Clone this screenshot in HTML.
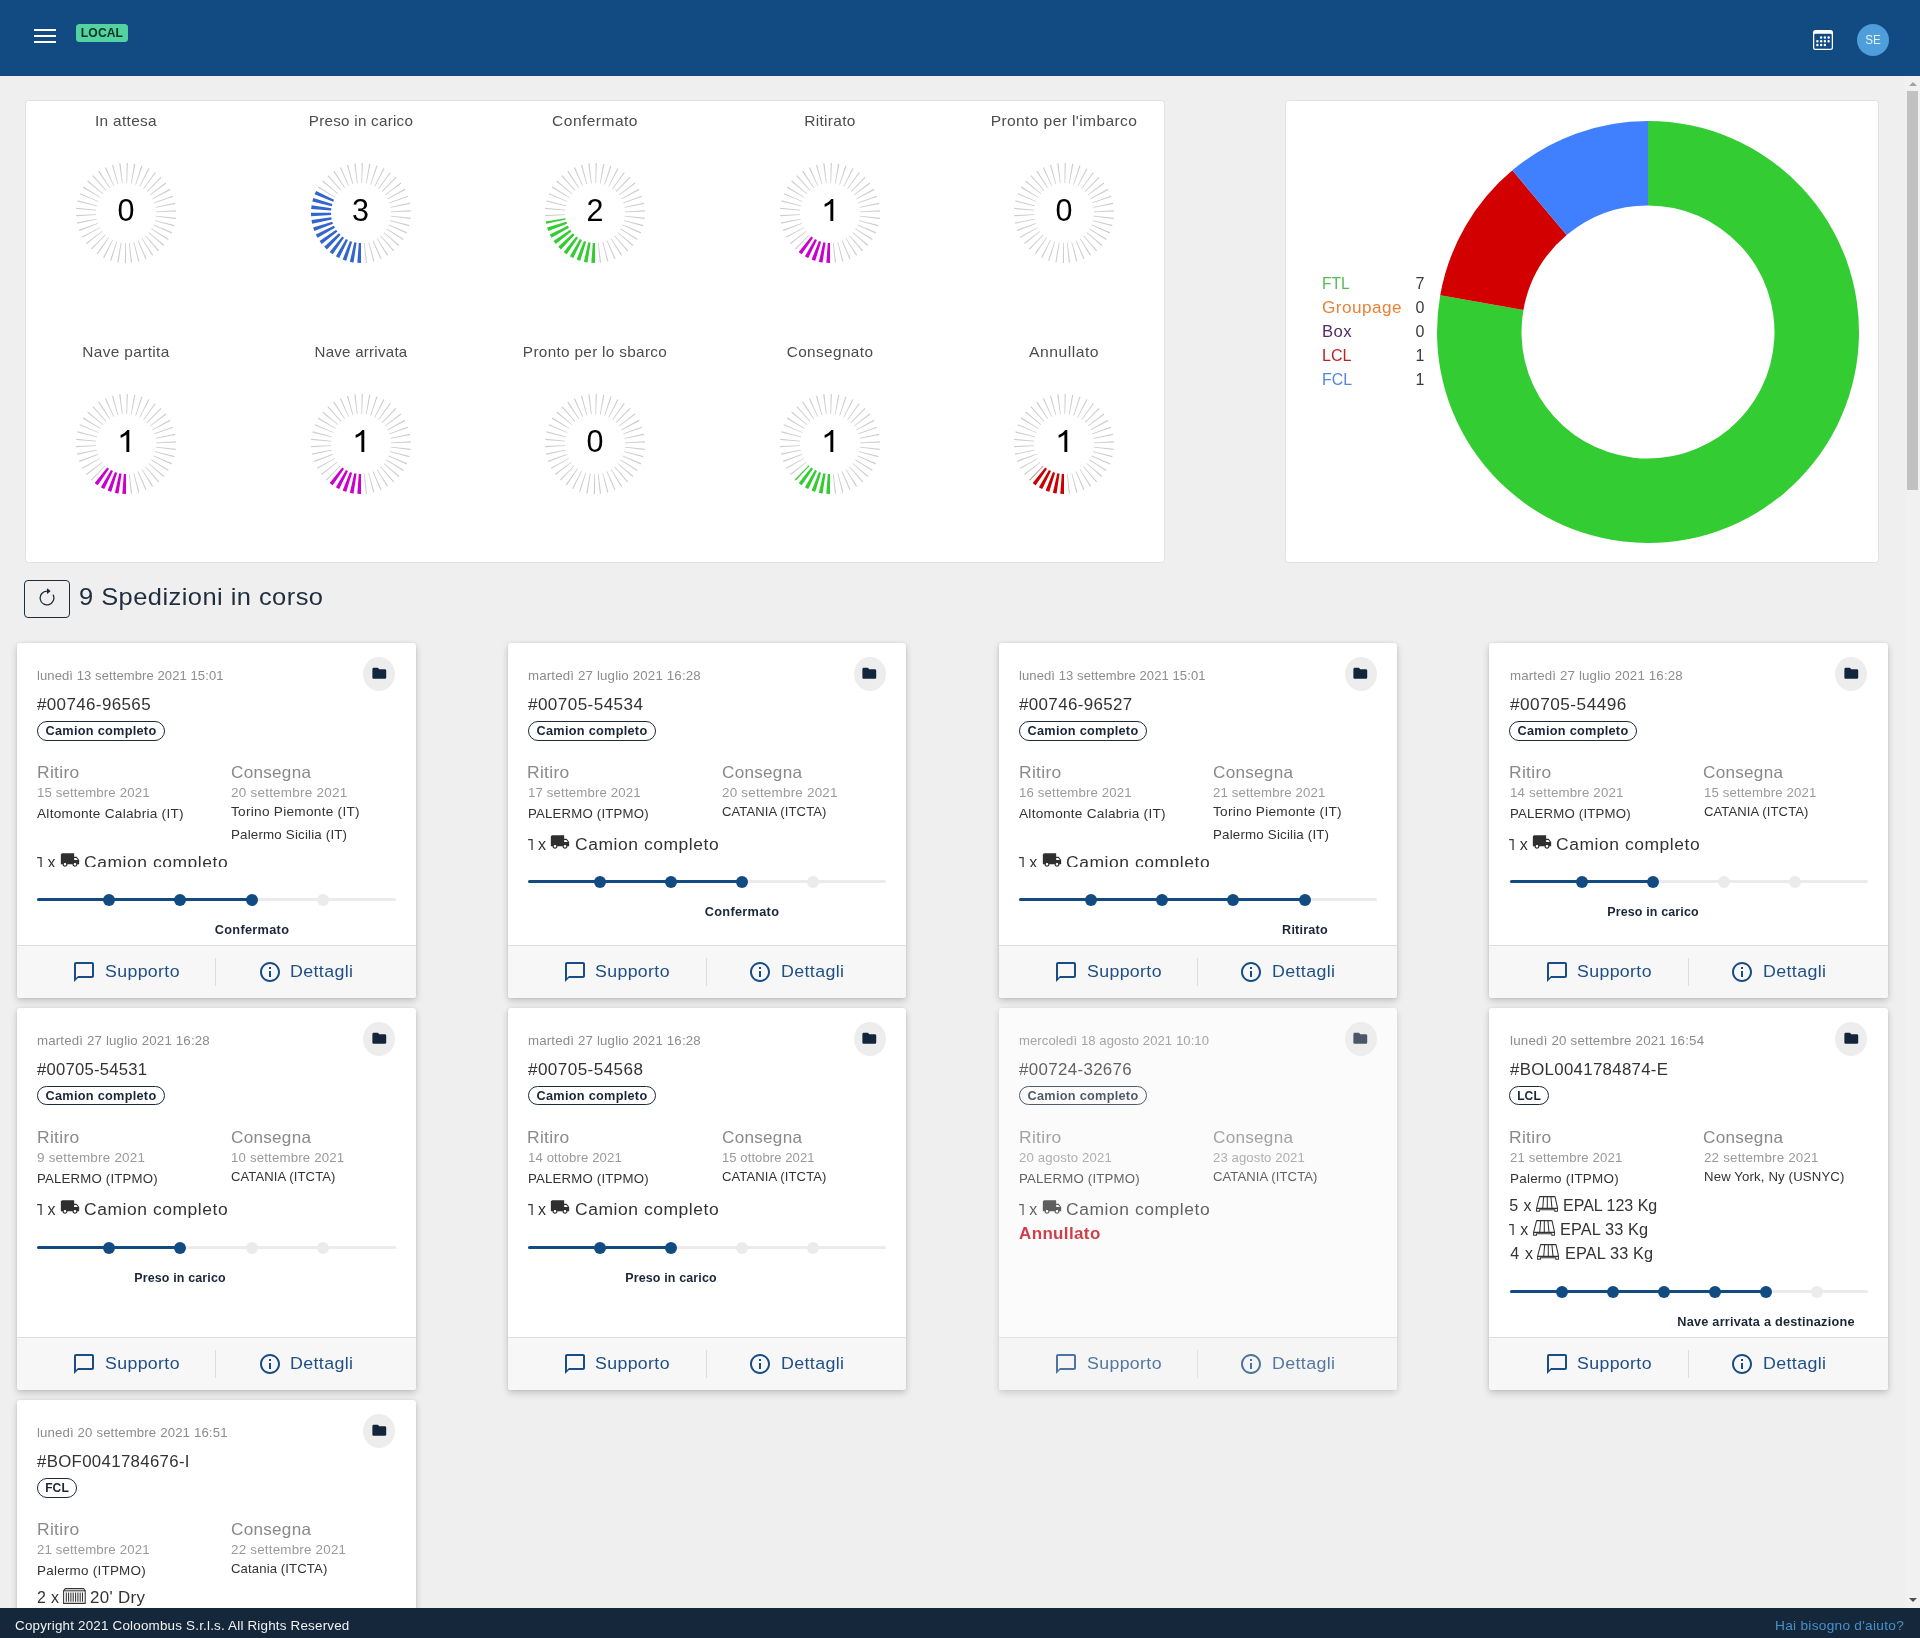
<!DOCTYPE html><html><head><meta charset="utf-8"><title>Dashboard</title><style>
*{box-sizing:border-box}
html,body{margin:0;padding:0}
body{width:1920px;height:1638px;overflow:hidden;background:#efefef}
#root{position:absolute;left:0;top:0;width:1920px;height:1638px;overflow:hidden;will-change:transform;background:#efefef;font-family:"Liberation Sans",sans-serif;color:#333}
.abs{position:absolute}
.t{position:absolute;white-space:nowrap;line-height:1}
#hdr{position:absolute;left:0;top:0;width:1920px;height:75.5px;background:#124b82}
.bar{position:absolute;left:34px;width:22px;height:2.4px;background:#fff}
#local{position:absolute;left:76px;top:24px;width:52px;height:18px;border-radius:3.5px;background:#52d3a1}
.loc{font-size:12px;font-weight:700;color:#0c3326}
#ava{position:absolute;left:1857px;top:24px;width:32px;height:32px;border-radius:50%;background:#4d9edb}
.av{font-size:12px;color:#e6f3ff}
.pan{position:absolute;background:#fff;border:1px solid #e1e1e1;border-radius:3.5px}
.gl{font-size:14.4px;color:#4c4c4c}
.gn{font-size:30.5px;color:#000}
.lg{font-size:16px}
.lgn{font-size:16px;color:#3a3a3a}
#rbtn{position:absolute;left:24px;top:580px;width:46px;height:38px;border:1px solid #222d3a;border-radius:4px}
.ttl{font-size:24px;color:#1f2d3d}
.card{position:absolute;width:398.6px;background:#fff;border-radius:3px;box-shadow:0 3px 7px rgba(0,0,0,.19),0 0 3px rgba(0,0,0,.08);overflow:hidden}
.card.off{opacity:.75}
.dt{font-size:12.8px;color:#8c8c8c}
.id{font-size:16px;color:#333}
.fbtn{position:absolute;left:346px;top:14.3px;width:32px;height:34px;border-radius:50%;background:#ededed}
.badge{position:absolute;height:19.5px;border:1px solid #1c2b3a;border-radius:10px}
.bt{font-size:12px;font-weight:700;color:#1a2636}
.lab{font-size:16.5px;color:#8a8a8a}
.d2{font-size:12.8px;color:#9a9a9a}
.pl{font-size:12.8px;color:#333}
.cg{font-size:16px;color:#333}
.pl0{position:absolute;left:20.3px;width:358.4px;height:3px;background:#ebebeb;border-radius:2px}
.pl1{position:absolute;left:20.3px;height:3.2px;background:#124b82;border-radius:2px}
.dot{position:absolute;width:12px;height:12px;border-radius:50%;background:#ebebeb}
.dot.on{background:#124b82}
.st{font-size:12px;font-weight:700;color:#1a2636}
.ann{font-size:16px;font-weight:700;color:#c40510}
.foot{position:absolute;left:0;width:100%;height:60px;background:#f7f7f7;border-top:1px solid #dedede}
.fl{font-size:16.8px;color:#1f4f86}
.vd{position:absolute;left:198.3px;width:1px;height:28.5px;background:#dcdcdc}
#ftr{position:absolute;left:0;top:1608px;width:1920px;height:30px;background:#15273a}
.ft{font-size:12.8px}
#sb{position:absolute;left:1905px;top:75.5px;width:15px;height:1532.5px;background:#f1f1f1}
#sbt{position:absolute;left:2px;top:15px;width:11px;height:399.5px;background:#c1c1c1}
</style></head><body><div id="root">
<div id="hdr"><div class="bar" style="top:28.8px"></div><div class="bar" style="top:34.8px"></div><div class="bar" style="top:40.8px"></div><div id="local"></div>
<div class="t loc" style="top:27.05px;left:-98.00px;width:400px;text-align:center;transform:scaleX(1.0127);transform-origin:center center;letter-spacing:0.086px;"><span id="t1">LOCAL</span></div>
<svg class="abs" style="left:1813px;top:30px" width="20" height="20" viewBox="0 0 16 16" fill="#fff"><path d="M14 0H2a2 2 0 0 0-2 2v12a2 2 0 0 0 2 2h12a2 2 0 0 0 2-2V2a2 2 0 0 0-2-2zM1 3.857C1 3.384 1.448 3 2 3h12c.552 0 1 .384 1 .857v10.286c0 .473-.448.857-1 .857H2c-.552 0-1-.384-1-.857V3.857z"/><path d="M6.500 7a1 1 0 1 0 0-2 1 1 0 0 0 0 2zm3 0a1 1 0 1 0 0-2 1 1 0 0 0 0 2zm3 0a1 1 0 1 0 0-2 1 1 0 0 0 0 2zm-9 3a1 1 0 1 0 0-2 1 1 0 0 0 0 2zm3 0a1 1 0 1 0 0-2 1 1 0 0 0 0 2zm3 0a1 1 0 1 0 0-2 1 1 0 0 0 0 2zm3 0a1 1 0 1 0 0-2 1 1 0 0 0 0 2zm-9 3a1 1 0 1 0 0-2 1 1 0 0 0 0 2zm3 0a1 1 0 1 0 0-2 1 1 0 0 0 0 2zm3 0a1 1 0 1 0 0-2 1 1 0 0 0 0 2z"/></svg>
<div id="ava"></div>
<div class="t av" style="top:34.05px;left:1672.90px;width:400px;text-align:center;transform:scaleX(0.9740);transform-origin:center center;"><span id="t2">SE</span></div>
</div>
<div id="sb"><div id="sbt"></div><svg class="abs" style="left:3.5px;top:6.5px" width="8" height="4" viewBox="0 0 8 4"><path d="M0 4L4 0L8 4Z" fill="#a3a3a3"/></svg><svg class="abs" style="left:3.5px;top:1522.5px" width="8" height="4" viewBox="0 0 8 4"><path d="M0 0L4 4L8 0Z" fill="#505050"/></svg></div>
<div class="pan" style="left:25px;top:100px;width:1139.500px;height:463px"></div>
<div class="t gl" style="top:114.05px;left:-74.00px;width:400px;text-align:center;transform:scaleX(1.0706);transform-origin:center center;letter-spacing:0.303px;"><span id="t3">In attesa</span></div>
<svg class="abs" style="left:71.00px;top:157.90px" width="110" height="110" viewBox="-55 -55 110 110"><g transform="rotate(90)" fill="none" stroke-width="20"><circle r="40" stroke="#cdcdcd" stroke-dasharray="1 5"/></g></svg>
<div class="t gn" style="top:195.05px;left:-74.00px;width:400px;text-align:center;"><span id="t4">0</span></div>
<div class="t gl" style="top:114.05px;left:160.50px;width:400px;text-align:center;transform:scaleX(1.0555);transform-origin:center center;letter-spacing:0.239px;"><span id="t5">Preso in carico</span></div>
<svg class="abs" style="left:305.50px;top:157.90px" width="110" height="110" viewBox="-55 -55 110 110"><g transform="rotate(90)" fill="none" stroke-width="20"><circle r="40" stroke="#cdcdcd" stroke-dasharray="1 5"/><circle r="40" stroke="#fff" stroke-dasharray="83.78 999"/><circle r="40" stroke="#3366cc" stroke-dasharray="3.00 3.00 3.00 3.00 3.00 3.00 3.00 3.00 3.00 3.00 3.00 3.00 3.00 3.00 3.00 3.00 3.00 3.00 3.00 3.00 3.00 3.00 3.00 3.00 3.00 3.00 3.00 999"/></g></svg>
<div class="t gn" style="top:195.05px;left:160.50px;width:400px;text-align:center;"><span id="t6">3</span></div>
<div class="t gl" style="top:114.05px;left:395.00px;width:400px;text-align:center;transform:scaleX(1.0807);transform-origin:center center;letter-spacing:0.416px;"><span id="t7">Confermato</span></div>
<svg class="abs" style="left:540.00px;top:157.90px" width="110" height="110" viewBox="-55 -55 110 110"><g transform="rotate(90)" fill="none" stroke-width="20"><circle r="40" stroke="#cdcdcd" stroke-dasharray="1 5"/><circle r="40" stroke="#fff" stroke-dasharray="55.85 999"/><circle r="40" stroke="#33cc33" stroke-dasharray="3.00 3.00 3.00 3.00 3.00 3.00 3.00 3.00 3.00 3.00 3.00 3.00 3.00 3.00 3.00 3.00 3.00 3.00 1.85 999"/></g></svg>
<div class="t gn" style="top:195.05px;left:395.00px;width:400px;text-align:center;"><span id="t8">2</span></div>
<div class="t gl" style="top:114.05px;left:629.50px;width:400px;text-align:center;transform:scaleX(1.0751);transform-origin:center center;letter-spacing:0.303px;"><span id="t9">Ritirato</span></div>
<svg class="abs" style="left:774.50px;top:157.90px" width="110" height="110" viewBox="-55 -55 110 110"><g transform="rotate(90)" fill="none" stroke-width="20"><circle r="40" stroke="#cdcdcd" stroke-dasharray="1 5"/><circle r="40" stroke="#fff" stroke-dasharray="27.93 999"/><circle r="40" stroke="#cc00cc" stroke-dasharray="3.00 3.00 3.00 3.00 3.00 3.00 3.00 3.00 3.00 999"/></g><path d="M3.300 8.100H.4V-9.600C-.9-8.400-3-7.100-5.400-6.200V-9C-2.300-10.400 .2-12.400 1.300-14.100H3.300Z" fill="#000"/></svg>
<div class="t gl" style="top:114.05px;left:864.00px;width:400px;text-align:center;transform:scaleX(1.0840);transform-origin:center center;letter-spacing:0.349px;"><span id="t10">Pronto per l'imbarco</span></div>
<svg class="abs" style="left:1009.00px;top:157.90px" width="110" height="110" viewBox="-55 -55 110 110"><g transform="rotate(90)" fill="none" stroke-width="20"><circle r="40" stroke="#cdcdcd" stroke-dasharray="1 5"/></g></svg>
<div class="t gn" style="top:195.05px;left:864.00px;width:400px;text-align:center;"><span id="t11">0</span></div>
<div class="t gl" style="top:345.05px;left:-74.00px;width:400px;text-align:center;transform:scaleX(1.0727);transform-origin:center center;letter-spacing:0.319px;"><span id="t12">Nave partita</span></div>
<svg class="abs" style="left:71.00px;top:388.90px" width="110" height="110" viewBox="-55 -55 110 110"><g transform="rotate(90)" fill="none" stroke-width="20"><circle r="40" stroke="#cdcdcd" stroke-dasharray="1 5"/><circle r="40" stroke="#fff" stroke-dasharray="27.93 999"/><circle r="40" stroke="#cc00cc" stroke-dasharray="3.00 3.00 3.00 3.00 3.00 3.00 3.00 3.00 3.00 999"/></g><path d="M3.300 8.100H.4V-9.600C-.9-8.400-3-7.100-5.400-6.200V-9C-2.300-10.400 .2-12.400 1.300-14.100H3.300Z" fill="#000"/></svg>
<div class="t gl" style="top:345.05px;left:160.50px;width:400px;text-align:center;transform:scaleX(1.0499);transform-origin:center center;letter-spacing:0.226px;"><span id="t13">Nave arrivata</span></div>
<svg class="abs" style="left:305.50px;top:388.90px" width="110" height="110" viewBox="-55 -55 110 110"><g transform="rotate(90)" fill="none" stroke-width="20"><circle r="40" stroke="#cdcdcd" stroke-dasharray="1 5"/><circle r="40" stroke="#fff" stroke-dasharray="27.93 999"/><circle r="40" stroke="#cc00cc" stroke-dasharray="3.00 3.00 3.00 3.00 3.00 3.00 3.00 3.00 3.00 999"/></g><path d="M3.300 8.100H.4V-9.600C-.9-8.400-3-7.100-5.400-6.200V-9C-2.300-10.400 .2-12.400 1.300-14.100H3.300Z" fill="#000"/></svg>
<div class="t gl" style="top:345.05px;left:395.00px;width:400px;text-align:center;transform:scaleX(1.0667);transform-origin:center center;letter-spacing:0.284px;"><span id="t14">Pronto per lo sbarco</span></div>
<svg class="abs" style="left:540.00px;top:388.90px" width="110" height="110" viewBox="-55 -55 110 110"><g transform="rotate(90)" fill="none" stroke-width="20"><circle r="40" stroke="#cdcdcd" stroke-dasharray="1 5"/></g></svg>
<div class="t gn" style="top:426.05px;left:395.00px;width:400px;text-align:center;"><span id="t15">0</span></div>
<div class="t gl" style="top:345.05px;left:629.50px;width:400px;text-align:center;transform:scaleX(1.0667);transform-origin:center center;letter-spacing:0.359px;"><span id="t16">Consegnato</span></div>
<svg class="abs" style="left:774.50px;top:388.90px" width="110" height="110" viewBox="-55 -55 110 110"><g transform="rotate(90)" fill="none" stroke-width="20"><circle r="40" stroke="#cdcdcd" stroke-dasharray="1 5"/><circle r="40" stroke="#fff" stroke-dasharray="31.20 999"/><circle r="40" stroke="#33cc33" stroke-dasharray="3.00 3.00 3.00 3.00 3.00 3.00 3.00 3.00 3.00 3.00 1.20 999"/></g><path d="M3.300 8.100H.4V-9.600C-.9-8.400-3-7.100-5.400-6.200V-9C-2.300-10.400 .2-12.400 1.300-14.100H3.300Z" fill="#000"/></svg>
<div class="t gl" style="top:345.05px;left:864.00px;width:400px;text-align:center;transform:scaleX(1.0948);transform-origin:center center;letter-spacing:0.433px;"><span id="t17">Annullato</span></div>
<svg class="abs" style="left:1009.00px;top:388.90px" width="110" height="110" viewBox="-55 -55 110 110"><g transform="rotate(90)" fill="none" stroke-width="20"><circle r="40" stroke="#cdcdcd" stroke-dasharray="1 5"/><circle r="40" stroke="#fff" stroke-dasharray="30.25 999"/><circle r="40" stroke="#cc0000" stroke-dasharray="3.00 3.00 3.00 3.00 3.00 3.00 3.00 3.00 3.00 3.00 0.25 999"/></g><path d="M3.300 8.100H.4V-9.600C-.9-8.400-3-7.100-5.400-6.200V-9C-2.300-10.400 .2-12.400 1.300-14.100H3.300Z" fill="#000"/></svg>
<div class="pan" style="left:1285.300px;top:100px;width:594px;height:463px"></div>
<svg class="abs" style="left:1436.2px;top:120px" width="424" height="424" viewBox="-212 -212 424 424"><path d="M0.00 -211.00A211 211 0 1 1 -207.79 -36.64L-124.58 -21.97A126.5 126.5 0 1 0 0.00 -126.50Z" fill="#33cc33"/><path d="M-207.79 -36.64A211 211 0 0 1 -135.63 -161.64L-81.31 -96.90A126.5 126.5 0 0 0 -124.58 -21.97Z" fill="#d20000"/><path d="M-135.63 -161.64A211 211 0 0 1 -0.00 -211.00L-0.00 -126.50A126.5 126.5 0 0 0 -81.31 -96.90Z" fill="#4080ff"/></svg>
<div class="t lg" style="top:276.05px;left:1322.00px;transform:scaleX(0.9665);transform-origin:left center;color:#52bd52;"><span id="t18">FTL</span></div>
<div class="t lgn" style="top:276.05px;left:1024.30px;width:400px;text-align:right;"><span id="t19">7</span></div>
<div class="t lg" style="top:300.05px;left:1322.00px;transform:scaleX(1.0711);transform-origin:left center;letter-spacing:0.450px;color:#e8823a;"><span id="t20">Groupage</span></div>
<div class="t lgn" style="top:300.05px;left:1024.30px;width:400px;text-align:right;"><span id="t21">0</span></div>
<div class="t lg" style="top:324.05px;left:1322.00px;transform:scaleX(1.0418);transform-origin:left center;letter-spacing:0.369px;color:#552a68;"><span id="t22">Box</span></div>
<div class="t lgn" style="top:324.05px;left:1024.30px;width:400px;text-align:right;"><span id="t23">0</span></div>
<div class="t lg" style="top:348.05px;left:1322.00px;transform:scaleX(1.0029);transform-origin:left center;letter-spacing:0.028px;color:#b82424;"><span id="t24">LCL</span></div>
<div class="t lgn" style="top:348.05px;left:1024.30px;width:400px;text-align:right;"><span id="t25">1</span></div>
<div class="t lg" style="top:372.05px;left:1322.00px;transform:scaleX(0.9922);transform-origin:left center;color:#5286e6;"><span id="t26">FCL</span></div>
<div class="t lgn" style="top:372.05px;left:1024.30px;width:400px;text-align:right;"><span id="t27">1</span></div>
<div id="rbtn"><svg class="abs" style="left:12.100px;top:7.300px" width="20" height="20" viewBox="0 0 16 16" fill="#1c2836"><path fill-rule="evenodd" d="M8 3a5 5 0 1 0 4.546 2.914.5.5 0 0 1 .908-.417A6 6 0 1 1 8 2v1z"/><path d="M8 4.466V.534a.25.25 0 0 1 .41-.192l2.360 1.966c.12.1.12.284 0 .384L8.410 4.658A.25.25 0 0 1 8 4.466z"/></svg></div>
<div class="t ttl" style="top:585.05px;left:78.60px;transform:scaleX(1.0610);transform-origin:left center;letter-spacing:0.425px;"><span id="t28">9 Spedizioni in corso</span></div>
<div class="card" style="left:17.00px;top:643px;height:354.75px"><div class="t dt" style="top:27.05px;left:20.40px;transform:scaleX(1.0192);transform-origin:left center;letter-spacing:0.078px;"><span id="t29">lunedì 13 settembre 2021 15:01</span></div><div class="fbtn"></div><svg class="abs" style="left:353.50px;top:22.20px" width="16.6" height="16.6" viewBox="0 0 24 24"><path fill="#13253a" d="M10 4H4c-1.100 0-1.990.9-1.990 2L2 18c0 1.100.9 2 2 2h16c1.100 0 2-.9 2-2V8c0-1.100-.9-2-2-2h-8l-2-2z"/></svg><div class="t id" style="top:54.05px;left:20.40px;transform:scaleX(1.0603);transform-origin:left center;letter-spacing:0.356px;"><span id="t30">#00746-96565</span></div><div class="badge" style="left:20px;top:78px;width:128px"></div><div class="t bt" style="top:82.05px;left:-116.00px;width:400px;text-align:center;transform:scaleX(1.0591);transform-origin:center center;letter-spacing:0.267px;"><span id="t31">Camion completo</span></div><div class="t lab" style="top:121.05px;left:19.90px;transform:scaleX(1.0574);transform-origin:left center;letter-spacing:0.279px;"><span id="t32">Ritiro</span></div><div class="t lab" style="top:121.05px;left:214.00px;transform:scaleX(1.0380);transform-origin:left center;letter-spacing:0.262px;"><span id="t33">Consegna</span></div><div class="t d2" style="top:144.05px;left:20.30px;transform:scaleX(1.0325);transform-origin:left center;letter-spacing:0.140px;"><span id="t34">15 settembre 2021</span></div><div class="t d2" style="top:144.05px;left:214.30px;transform:scaleX(1.0533);transform-origin:left center;letter-spacing:0.225px;"><span id="t35">20 settembre 2021</span></div><div class="t pl" style="top:165.05px;left:20.30px;transform:scaleX(1.0649);transform-origin:left center;letter-spacing:0.244px;"><span id="t36">Altomonte Calabria (IT)</span></div><div class="t pl" style="top:163.05px;left:214.30px;transform:scaleX(1.0656);transform-origin:left center;letter-spacing:0.250px;"><span id="t37">Torino Piemonte (IT)</span></div><div class="t pl" style="top:186.05px;left:214.30px;transform:scaleX(1.0444);transform-origin:left center;letter-spacing:0.161px;"><span id="t38">Palermo Sicilia (IT)</span></div><div class="abs" style="left:0;top:0;width:100%;height:224.2px;overflow:hidden"><svg class="abs" style="left:20.100px;top:213.70px" width="5" height="11.4" viewBox="0 0 5 11.4"><path d="M.1 0H4.700V11.300H3.400V1.200H.1Z" fill="#3a3a3a"/></svg><div class="t cg" style="top:212.05px;left:30.40px;"><span id="t39">x</span></div><svg class="abs" style="left:42.92px;top:206.65px" width="20" height="20" viewBox="0 0 24 24"><path fill="#2f2f2f" d="M20 8h-3V4H3c-1.100 0-2 .9-2 2v11h2c0 1.660 1.340 3 3 3s3-1.340 3-3h6c0 1.660 1.340 3 3 3s3-1.340 3-3h2v-5l-3-4zM6 18.500c-.83 0-1.500-.67-1.500-1.500s.67-1.500 1.500-1.500 1.500.67 1.500 1.500-.67 1.500-1.500 1.500zm13.500-9l1.960 2.500H17V9.500h2.500zm-1.500 9c-.83 0-1.500-.67-1.500-1.500s.67-1.500 1.500-1.500 1.500.67 1.500 1.500-.67 1.500-1.500 1.500z"/></svg><div class="t cg" style="top:212.05px;left:67.00px;transform:scaleX(1.0920);transform-origin:left center;letter-spacing:0.500px;"><span id="t40">Camion completo</span></div></div><div class="pl0" style="top:255.00px"></div><div class="pl1" style="top:254.90px;width:214.35px"></div><div class="dot on" style="left:86.00px;top:250.50px"></div><div class="dot on" style="left:157.00px;top:250.50px"></div><div class="dot on" style="left:229.00px;top:250.50px"></div><div class="dot" style="left:300.00px;top:250.50px"></div><div class="t st" style="top:281.05px;left:34.65px;width:400px;text-align:center;transform:scaleX(1.0611);transform-origin:center center;letter-spacing:0.287px;"><span id="t41">Confermato</span></div><div class="foot" style="top:302.25px"></div><svg class="abs" style="left:55.20px;top:316.95px" width="24" height="24" viewBox="0 0 24 24"><path fill="#174c84" d="M20 2H4c-1.100 0-2 .9-2 2v18l4-4h14c1.100 0 2-.9 2-2V4c0-1.100-.9-2-2-2zm0 14H6l-2 2V4h16v12z"/></svg><div class="t fl" style="top:321.05px;left:87.90px;transform:scaleX(1.0563);transform-origin:left center;letter-spacing:0.346px;"><span id="t42">Supporto</span></div><div class="vd" style="top:314.75px"></div><svg class="abs" style="left:240.60px;top:317.35px" width="24" height="24" viewBox="0 0 24 24"><path fill="#174c84" d="M11 17h2v-6h-2v6zm1-15C6.480 2 2 6.480 2 12s4.480 10 10 10 10-4.480 10-10S17.520 2 12 2zm0 18c-4.410 0-8-3.590-8-8s3.590-8 8-8 8 3.590 8 8-3.590 8-8 8zM11 9h2V7h-2v2z"/></svg><div class="t fl" style="top:321.05px;left:273.30px;transform:scaleX(1.0643);transform-origin:left center;letter-spacing:0.327px;"><span id="t43">Dettagli</span></div></div>
<div class="card" style="left:507.50px;top:643px;height:354.75px"><div class="t dt" style="top:27.05px;left:20.40px;transform:scaleX(1.0388);transform-origin:left center;letter-spacing:0.149px;"><span id="t44">martedì 27 luglio 2021 16:28</span></div><div class="fbtn"></div><svg class="abs" style="left:353.50px;top:22.20px" width="16.6" height="16.6" viewBox="0 0 24 24"><path fill="#13253a" d="M10 4H4c-1.100 0-1.990.9-1.990 2L2 18c0 1.100.9 2 2 2h16c1.100 0 2-.9 2-2V8c0-1.100-.9-2-2-2h-8l-2-2z"/></svg><div class="t id" style="top:54.05px;left:20.40px;transform:scaleX(1.0685);transform-origin:left center;letter-spacing:0.401px;"><span id="t45">#00705-54534</span></div><div class="badge" style="left:20px;top:78px;width:128px"></div><div class="t bt" style="top:82.05px;left:-116.00px;width:400px;text-align:center;transform:scaleX(1.0591);transform-origin:center center;letter-spacing:0.267px;"><span id="t46">Camion completo</span></div><div class="t lab" style="top:121.05px;left:19.90px;transform:scaleX(1.0574);transform-origin:left center;letter-spacing:0.279px;"><span id="t47">Ritiro</span></div><div class="t lab" style="top:121.05px;left:214.00px;transform:scaleX(1.0380);transform-origin:left center;letter-spacing:0.262px;"><span id="t48">Consegna</span></div><div class="t d2" style="top:144.05px;left:20.30px;transform:scaleX(1.0336);transform-origin:left center;letter-spacing:0.145px;"><span id="t49">17 settembre 2021</span></div><div class="t d2" style="top:144.05px;left:214.30px;transform:scaleX(1.0494);transform-origin:left center;letter-spacing:0.209px;"><span id="t50">20 settembre 2021</span></div><div class="t pl" style="top:165.05px;left:20.30px;transform:scaleX(1.0334);transform-origin:left center;letter-spacing:0.176px;"><span id="t51">PALERMO (ITPMO)</span></div><div class="t pl" style="top:163.05px;left:214.30px;transform:scaleX(1.0205);transform-origin:left center;letter-spacing:0.097px;"><span id="t52">CATANIA (ITCTA)</span></div><svg class="abs" style="left:20.100px;top:195.70px" width="5" height="11.4" viewBox="0 0 5 11.4"><path d="M.1 0H4.700V11.300H3.400V1.200H.1Z" fill="#3a3a3a"/></svg><div class="t cg" style="top:194.05px;left:30.40px;"><span id="t53">x</span></div><svg class="abs" style="left:42.92px;top:188.70px" width="20" height="20" viewBox="0 0 24 24"><path fill="#2f2f2f" d="M20 8h-3V4H3c-1.100 0-2 .9-2 2v11h2c0 1.660 1.340 3 3 3s3-1.340 3-3h6c0 1.660 1.340 3 3 3s3-1.340 3-3h2v-5l-3-4zM6 18.500c-.83 0-1.500-.67-1.500-1.500s.67-1.500 1.500-1.500 1.500.67 1.500 1.500-.67 1.500-1.500 1.500zm13.500-9l1.960 2.500H17V9.500h2.500zm-1.500 9c-.83 0-1.500-.67-1.500-1.500s.67-1.500 1.500-1.500 1.500.67 1.500 1.500-.67 1.500-1.500 1.500z"/></svg><div class="t cg" style="top:194.05px;left:67.00px;transform:scaleX(1.0920);transform-origin:left center;letter-spacing:0.500px;"><span id="t54">Camion completo</span></div><div class="pl0" style="top:237.30px"></div><div class="pl1" style="top:237.20px;width:214.35px"></div><div class="dot on" style="left:86.50px;top:232.80px"></div><div class="dot on" style="left:157.50px;top:232.80px"></div><div class="dot on" style="left:228.50px;top:232.80px"></div><div class="dot" style="left:299.50px;top:232.80px"></div><div class="t st" style="top:263.05px;left:34.65px;width:400px;text-align:center;transform:scaleX(1.0611);transform-origin:center center;letter-spacing:0.287px;"><span id="t55">Confermato</span></div><div class="foot" style="top:302.25px"></div><svg class="abs" style="left:55.20px;top:316.95px" width="24" height="24" viewBox="0 0 24 24"><path fill="#174c84" d="M20 2H4c-1.100 0-2 .9-2 2v18l4-4h14c1.100 0 2-.9 2-2V4c0-1.100-.9-2-2-2zm0 14H6l-2 2V4h16v12z"/></svg><div class="t fl" style="top:321.05px;left:87.90px;transform:scaleX(1.0563);transform-origin:left center;letter-spacing:0.346px;"><span id="t56">Supporto</span></div><div class="vd" style="top:314.75px"></div><svg class="abs" style="left:240.60px;top:317.35px" width="24" height="24" viewBox="0 0 24 24"><path fill="#174c84" d="M11 17h2v-6h-2v6zm1-15C6.480 2 2 6.480 2 12s4.480 10 10 10 10-4.480 10-10S17.520 2 12 2zm0 18c-4.410 0-8-3.590-8-8s3.590-8 8-8 8 3.590 8 8-3.590 8-8 8zM11 9h2V7h-2v2z"/></svg><div class="t fl" style="top:321.05px;left:273.30px;transform:scaleX(1.0643);transform-origin:left center;letter-spacing:0.327px;"><span id="t57">Dettagli</span></div></div>
<div class="card" style="left:998.75px;top:643px;height:354.75px"><div class="t dt" style="top:27.05px;left:20.40px;transform:scaleX(1.0192);transform-origin:left center;letter-spacing:0.078px;"><span id="t58">lunedì 13 settembre 2021 15:01</span></div><div class="fbtn"></div><svg class="abs" style="left:353.50px;top:22.20px" width="16.6" height="16.6" viewBox="0 0 24 24"><path fill="#13253a" d="M10 4H4c-1.100 0-1.990.9-1.990 2L2 18c0 1.100.9 2 2 2h16c1.100 0 2-.9 2-2V8c0-1.100-.9-2-2-2h-8l-2-2z"/></svg><div class="t id" style="top:54.05px;left:20.40px;transform:scaleX(1.0586);transform-origin:left center;letter-spacing:0.346px;"><span id="t59">#00746-96527</span></div><div class="badge" style="left:20px;top:78px;width:128px"></div><div class="t bt" style="top:82.05px;left:-116.00px;width:400px;text-align:center;transform:scaleX(1.0591);transform-origin:center center;letter-spacing:0.267px;"><span id="t60">Camion completo</span></div><div class="t lab" style="top:121.05px;left:19.90px;transform:scaleX(1.0574);transform-origin:left center;letter-spacing:0.279px;"><span id="t61">Ritiro</span></div><div class="t lab" style="top:121.05px;left:214.00px;transform:scaleX(1.0380);transform-origin:left center;letter-spacing:0.262px;"><span id="t62">Consegna</span></div><div class="t d2" style="top:144.05px;left:20.30px;transform:scaleX(1.0336);transform-origin:left center;letter-spacing:0.145px;"><span id="t63">16 settembre 2021</span></div><div class="t d2" style="top:144.05px;left:214.30px;transform:scaleX(1.0314);transform-origin:left center;letter-spacing:0.135px;"><span id="t64">21 settembre 2021</span></div><div class="t pl" style="top:165.05px;left:20.30px;transform:scaleX(1.0649);transform-origin:left center;letter-spacing:0.244px;"><span id="t65">Altomonte Calabria (IT)</span></div><div class="t pl" style="top:163.05px;left:214.30px;transform:scaleX(1.0656);transform-origin:left center;letter-spacing:0.250px;"><span id="t66">Torino Piemonte (IT)</span></div><div class="t pl" style="top:186.05px;left:214.30px;transform:scaleX(1.0444);transform-origin:left center;letter-spacing:0.161px;"><span id="t67">Palermo Sicilia (IT)</span></div><div class="abs" style="left:0;top:0;width:100%;height:224.2px;overflow:hidden"><svg class="abs" style="left:20.100px;top:213.70px" width="5" height="11.4" viewBox="0 0 5 11.4"><path d="M.1 0H4.700V11.300H3.400V1.200H.1Z" fill="#3a3a3a"/></svg><div class="t cg" style="top:212.05px;left:30.40px;"><span id="t68">x</span></div><svg class="abs" style="left:42.92px;top:206.65px" width="20" height="20" viewBox="0 0 24 24"><path fill="#2f2f2f" d="M20 8h-3V4H3c-1.100 0-2 .9-2 2v11h2c0 1.660 1.340 3 3 3s3-1.340 3-3h6c0 1.660 1.340 3 3 3s3-1.340 3-3h2v-5l-3-4zM6 18.500c-.83 0-1.500-.67-1.500-1.500s.67-1.500 1.500-1.500 1.500.67 1.500 1.500-.67 1.500-1.500 1.500zm13.500-9l1.960 2.500H17V9.500h2.500zm-1.500 9c-.83 0-1.500-.67-1.500-1.500s.67-1.500 1.500-1.500 1.500.67 1.500 1.500-.67 1.500-1.500 1.500z"/></svg><div class="t cg" style="top:212.05px;left:67.00px;transform:scaleX(1.0920);transform-origin:left center;letter-spacing:0.500px;"><span id="t69">Camion completo</span></div></div><div class="pl0" style="top:255.00px"></div><div class="pl1" style="top:254.90px;width:285.60px"></div><div class="dot on" style="left:86.25px;top:250.50px"></div><div class="dot on" style="left:157.25px;top:250.50px"></div><div class="dot on" style="left:228.25px;top:250.50px"></div><div class="dot on" style="left:300.25px;top:250.50px"></div><div class="t st" style="top:281.05px;left:105.90px;width:400px;text-align:center;transform:scaleX(1.0514);transform-origin:center center;letter-spacing:0.196px;"><span id="t70">Ritirato</span></div><div class="foot" style="top:302.25px"></div><svg class="abs" style="left:55.20px;top:316.95px" width="24" height="24" viewBox="0 0 24 24"><path fill="#174c84" d="M20 2H4c-1.100 0-2 .9-2 2v18l4-4h14c1.100 0 2-.9 2-2V4c0-1.100-.9-2-2-2zm0 14H6l-2 2V4h16v12z"/></svg><div class="t fl" style="top:321.05px;left:87.90px;transform:scaleX(1.0563);transform-origin:left center;letter-spacing:0.346px;"><span id="t71">Supporto</span></div><div class="vd" style="top:314.75px"></div><svg class="abs" style="left:240.60px;top:317.35px" width="24" height="24" viewBox="0 0 24 24"><path fill="#174c84" d="M11 17h2v-6h-2v6zm1-15C6.480 2 2 6.480 2 12s4.480 10 10 10 10-4.480 10-10S17.520 2 12 2zm0 18c-4.410 0-8-3.590-8-8s3.590-8 8-8 8 3.590 8 8-3.590 8-8 8zM11 9h2V7h-2v2z"/></svg><div class="t fl" style="top:321.05px;left:273.30px;transform:scaleX(1.0643);transform-origin:left center;letter-spacing:0.327px;"><span id="t72">Dettagli</span></div></div>
<div class="card" style="left:1489.40px;top:643px;height:354.75px"><div class="t dt" style="top:27.05px;left:20.40px;transform:scaleX(1.0388);transform-origin:left center;letter-spacing:0.149px;"><span id="t73">martedì 27 luglio 2021 16:28</span></div><div class="fbtn"></div><svg class="abs" style="left:353.50px;top:22.20px" width="16.6" height="16.6" viewBox="0 0 24 24"><path fill="#13253a" d="M10 4H4c-1.100 0-1.990.9-1.990 2L2 18c0 1.100.9 2 2 2h16c1.100 0 2-.9 2-2V8c0-1.100-.9-2-2-2h-8l-2-2z"/></svg><div class="t id" style="top:54.05px;left:20.40px;transform:scaleX(1.0766);transform-origin:left center;letter-spacing:0.445px;"><span id="t74">#00705-54496</span></div><div class="badge" style="left:20px;top:78px;width:128px"></div><div class="t bt" style="top:82.05px;left:-116.00px;width:400px;text-align:center;transform:scaleX(1.0591);transform-origin:center center;letter-spacing:0.267px;"><span id="t75">Camion completo</span></div><div class="t lab" style="top:121.05px;left:19.90px;transform:scaleX(1.0574);transform-origin:left center;letter-spacing:0.279px;"><span id="t76">Ritiro</span></div><div class="t lab" style="top:121.05px;left:214.00px;transform:scaleX(1.0380);transform-origin:left center;letter-spacing:0.262px;"><span id="t77">Consegna</span></div><div class="t d2" style="top:144.05px;left:20.30px;transform:scaleX(1.0376);transform-origin:left center;letter-spacing:0.161px;"><span id="t78">14 settembre 2021</span></div><div class="t d2" style="top:144.05px;left:214.30px;transform:scaleX(1.0314);transform-origin:left center;letter-spacing:0.135px;"><span id="t79">15 settembre 2021</span></div><div class="t pl" style="top:165.05px;left:20.30px;transform:scaleX(1.0334);transform-origin:left center;letter-spacing:0.176px;"><span id="t80">PALERMO (ITPMO)</span></div><div class="t pl" style="top:163.05px;left:214.30px;transform:scaleX(1.0205);transform-origin:left center;letter-spacing:0.097px;"><span id="t81">CATANIA (ITCTA)</span></div><svg class="abs" style="left:20.100px;top:195.70px" width="5" height="11.4" viewBox="0 0 5 11.4"><path d="M.1 0H4.700V11.300H3.400V1.200H.1Z" fill="#3a3a3a"/></svg><div class="t cg" style="top:194.05px;left:30.40px;"><span id="t82">x</span></div><svg class="abs" style="left:42.92px;top:188.70px" width="20" height="20" viewBox="0 0 24 24"><path fill="#2f2f2f" d="M20 8h-3V4H3c-1.100 0-2 .9-2 2v11h2c0 1.660 1.340 3 3 3s3-1.340 3-3h6c0 1.660 1.340 3 3 3s3-1.340 3-3h2v-5l-3-4zM6 18.500c-.83 0-1.500-.67-1.500-1.500s.67-1.500 1.500-1.500 1.500.67 1.500 1.500-.67 1.500-1.500 1.500zm13.500-9l1.960 2.500H17V9.500h2.500zm-1.500 9c-.83 0-1.500-.67-1.500-1.500s.67-1.500 1.500-1.500 1.500.67 1.500 1.500-.67 1.500-1.500 1.500z"/></svg><div class="t cg" style="top:194.05px;left:67.00px;transform:scaleX(1.0920);transform-origin:left center;letter-spacing:0.500px;"><span id="t83">Camion completo</span></div><div class="pl0" style="top:237.30px"></div><div class="pl1" style="top:237.20px;width:143.10px"></div><div class="dot on" style="left:86.60px;top:232.80px"></div><div class="dot on" style="left:157.60px;top:232.80px"></div><div class="dot" style="left:228.60px;top:232.80px"></div><div class="dot" style="left:299.60px;top:232.80px"></div><div class="t st" style="top:263.05px;left:-36.60px;width:400px;text-align:center;transform:scaleX(1.0380);transform-origin:center center;letter-spacing:0.150px;"><span id="t84">Preso in carico</span></div><div class="foot" style="top:302.25px"></div><svg class="abs" style="left:55.20px;top:316.95px" width="24" height="24" viewBox="0 0 24 24"><path fill="#174c84" d="M20 2H4c-1.100 0-2 .9-2 2v18l4-4h14c1.100 0 2-.9 2-2V4c0-1.100-.9-2-2-2zm0 14H6l-2 2V4h16v12z"/></svg><div class="t fl" style="top:321.05px;left:87.90px;transform:scaleX(1.0563);transform-origin:left center;letter-spacing:0.346px;"><span id="t85">Supporto</span></div><div class="vd" style="top:314.75px"></div><svg class="abs" style="left:240.60px;top:317.35px" width="24" height="24" viewBox="0 0 24 24"><path fill="#174c84" d="M11 17h2v-6h-2v6zm1-15C6.480 2 2 6.480 2 12s4.480 10 10 10 10-4.480 10-10S17.520 2 12 2zm0 18c-4.410 0-8-3.590-8-8s3.590-8 8-8 8 3.590 8 8-3.590 8-8 8zM11 9h2V7h-2v2z"/></svg><div class="t fl" style="top:321.05px;left:273.30px;transform:scaleX(1.0643);transform-origin:left center;letter-spacing:0.327px;"><span id="t86">Dettagli</span></div></div>
<div class="card" style="left:17.00px;top:1007.5px;height:382.5px"><div class="t dt" style="top:27.55px;left:20.40px;transform:scaleX(1.0388);transform-origin:left center;letter-spacing:0.149px;"><span id="t87">martedì 27 luglio 2021 16:28</span></div><div class="fbtn"></div><svg class="abs" style="left:353.50px;top:22.20px" width="16.6" height="16.6" viewBox="0 0 24 24"><path fill="#13253a" d="M10 4H4c-1.100 0-1.990.9-1.990 2L2 18c0 1.100.9 2 2 2h16c1.100 0 2-.9 2-2V8c0-1.100-.9-2-2-2h-8l-2-2z"/></svg><div class="t id" style="top:54.55px;left:20.40px;transform:scaleX(1.0394);transform-origin:left center;letter-spacing:0.237px;"><span id="t88">#00705-54531</span></div><div class="badge" style="left:20px;top:78px;width:128px"></div><div class="t bt" style="top:82.55px;left:-116.00px;width:400px;text-align:center;transform:scaleX(1.0591);transform-origin:center center;letter-spacing:0.267px;"><span id="t89">Camion completo</span></div><div class="t lab" style="top:121.55px;left:19.90px;transform:scaleX(1.0574);transform-origin:left center;letter-spacing:0.279px;"><span id="t90">Ritiro</span></div><div class="t lab" style="top:121.55px;left:214.00px;transform:scaleX(1.0380);transform-origin:left center;letter-spacing:0.262px;"><span id="t91">Consegna</span></div><div class="t d2" style="top:144.55px;left:20.30px;transform:scaleX(1.0505);transform-origin:left center;letter-spacing:0.213px;"><span id="t92">9 settembre 2021</span></div><div class="t d2" style="top:144.55px;left:214.30px;transform:scaleX(1.0364);transform-origin:left center;letter-spacing:0.156px;"><span id="t93">10 settembre 2021</span></div><div class="t pl" style="top:165.55px;left:20.30px;transform:scaleX(1.0334);transform-origin:left center;letter-spacing:0.176px;"><span id="t94">PALERMO (ITPMO)</span></div><div class="t pl" style="top:163.55px;left:214.30px;transform:scaleX(1.0205);transform-origin:left center;letter-spacing:0.097px;"><span id="t95">CATANIA (ITCTA)</span></div><svg class="abs" style="left:20.100px;top:196.20px" width="5" height="11.4" viewBox="0 0 5 11.4"><path d="M.1 0H4.700V11.300H3.400V1.200H.1Z" fill="#3a3a3a"/></svg><div class="t cg" style="top:194.55px;left:30.40px;"><span id="t96">x</span></div><svg class="abs" style="left:42.92px;top:189.15px" width="20" height="20" viewBox="0 0 24 24"><path fill="#2f2f2f" d="M20 8h-3V4H3c-1.100 0-2 .9-2 2v11h2c0 1.660 1.340 3 3 3s3-1.340 3-3h6c0 1.660 1.340 3 3 3s3-1.340 3-3h2v-5l-3-4zM6 18.500c-.83 0-1.500-.67-1.500-1.500s.67-1.500 1.500-1.500 1.500.67 1.500 1.500-.67 1.500-1.500 1.500zm13.500-9l1.960 2.500H17V9.500h2.500zm-1.500 9c-.83 0-1.500-.67-1.500-1.500s.67-1.500 1.500-1.500 1.500.67 1.500 1.500-.67 1.500-1.500 1.500z"/></svg><div class="t cg" style="top:194.55px;left:67.00px;transform:scaleX(1.0920);transform-origin:left center;letter-spacing:0.500px;"><span id="t97">Camion completo</span></div><div class="pl0" style="top:238.60px"></div><div class="pl1" style="top:238.50px;width:143.10px"></div><div class="dot on" style="left:86.00px;top:234.10px"></div><div class="dot on" style="left:157.00px;top:234.10px"></div><div class="dot" style="left:229.00px;top:234.10px"></div><div class="dot" style="left:300.00px;top:234.10px"></div><div class="t st" style="top:264.55px;left:-36.60px;width:400px;text-align:center;transform:scaleX(1.0380);transform-origin:center center;letter-spacing:0.150px;"><span id="t98">Preso in carico</span></div><div class="foot" style="top:329.50px"></div><svg class="abs" style="left:55.20px;top:344.20px" width="24" height="24" viewBox="0 0 24 24"><path fill="#174c84" d="M20 2H4c-1.100 0-2 .9-2 2v18l4-4h14c1.100 0 2-.9 2-2V4c0-1.100-.9-2-2-2zm0 14H6l-2 2V4h16v12z"/></svg><div class="t fl" style="top:348.55px;left:87.90px;transform:scaleX(1.0563);transform-origin:left center;letter-spacing:0.346px;"><span id="t99">Supporto</span></div><div class="vd" style="top:342.00px"></div><svg class="abs" style="left:240.60px;top:344.60px" width="24" height="24" viewBox="0 0 24 24"><path fill="#174c84" d="M11 17h2v-6h-2v6zm1-15C6.480 2 2 6.480 2 12s4.480 10 10 10 10-4.480 10-10S17.520 2 12 2zm0 18c-4.410 0-8-3.590-8-8s3.590-8 8-8 8 3.590 8 8-3.590 8-8 8zM11 9h2V7h-2v2z"/></svg><div class="t fl" style="top:348.55px;left:273.30px;transform:scaleX(1.0643);transform-origin:left center;letter-spacing:0.327px;"><span id="t100">Dettagli</span></div></div>
<div class="card" style="left:507.50px;top:1007.5px;height:382.5px"><div class="t dt" style="top:27.55px;left:20.40px;transform:scaleX(1.0388);transform-origin:left center;letter-spacing:0.149px;"><span id="t101">martedì 27 luglio 2021 16:28</span></div><div class="fbtn"></div><svg class="abs" style="left:353.50px;top:22.20px" width="16.6" height="16.6" viewBox="0 0 24 24"><path fill="#13253a" d="M10 4H4c-1.100 0-1.990.9-1.990 2L2 18c0 1.100.9 2 2 2h16c1.100 0 2-.9 2-2V8c0-1.100-.9-2-2-2h-8l-2-2z"/></svg><div class="t id" style="top:54.55px;left:20.40px;transform:scaleX(1.0685);transform-origin:left center;letter-spacing:0.401px;"><span id="t102">#00705-54568</span></div><div class="badge" style="left:20px;top:78px;width:128px"></div><div class="t bt" style="top:82.55px;left:-116.00px;width:400px;text-align:center;transform:scaleX(1.0591);transform-origin:center center;letter-spacing:0.267px;"><span id="t103">Camion completo</span></div><div class="t lab" style="top:121.55px;left:19.90px;transform:scaleX(1.0574);transform-origin:left center;letter-spacing:0.279px;"><span id="t104">Ritiro</span></div><div class="t lab" style="top:121.55px;left:214.00px;transform:scaleX(1.0380);transform-origin:left center;letter-spacing:0.262px;"><span id="t105">Consegna</span></div><div class="t d2" style="top:144.55px;left:20.30px;transform:scaleX(1.0274);transform-origin:left center;letter-spacing:0.114px;"><span id="t106">14 ottobre 2021</span></div><div class="t d2" style="top:144.55px;left:214.30px;transform:scaleX(1.0190);transform-origin:left center;letter-spacing:0.080px;"><span id="t107">15 ottobre 2021</span></div><div class="t pl" style="top:165.55px;left:20.30px;transform:scaleX(1.0334);transform-origin:left center;letter-spacing:0.176px;"><span id="t108">PALERMO (ITPMO)</span></div><div class="t pl" style="top:163.55px;left:214.30px;transform:scaleX(1.0205);transform-origin:left center;letter-spacing:0.097px;"><span id="t109">CATANIA (ITCTA)</span></div><svg class="abs" style="left:20.100px;top:196.20px" width="5" height="11.4" viewBox="0 0 5 11.4"><path d="M.1 0H4.700V11.300H3.400V1.200H.1Z" fill="#3a3a3a"/></svg><div class="t cg" style="top:194.55px;left:30.40px;"><span id="t110">x</span></div><svg class="abs" style="left:42.92px;top:189.15px" width="20" height="20" viewBox="0 0 24 24"><path fill="#2f2f2f" d="M20 8h-3V4H3c-1.100 0-2 .9-2 2v11h2c0 1.660 1.340 3 3 3s3-1.340 3-3h6c0 1.660 1.340 3 3 3s3-1.340 3-3h2v-5l-3-4zM6 18.500c-.83 0-1.500-.67-1.500-1.500s.67-1.500 1.500-1.500 1.500.67 1.500 1.500-.67 1.500-1.500 1.500zm13.500-9l1.960 2.500H17V9.500h2.500zm-1.500 9c-.83 0-1.500-.67-1.500-1.500s.67-1.500 1.500-1.500 1.500.67 1.500 1.500-.67 1.500-1.500 1.500z"/></svg><div class="t cg" style="top:194.55px;left:67.00px;transform:scaleX(1.0920);transform-origin:left center;letter-spacing:0.500px;"><span id="t111">Camion completo</span></div><div class="pl0" style="top:238.60px"></div><div class="pl1" style="top:238.50px;width:143.10px"></div><div class="dot on" style="left:86.50px;top:234.10px"></div><div class="dot on" style="left:157.50px;top:234.10px"></div><div class="dot" style="left:228.50px;top:234.10px"></div><div class="dot" style="left:299.50px;top:234.10px"></div><div class="t st" style="top:264.55px;left:-36.60px;width:400px;text-align:center;transform:scaleX(1.0380);transform-origin:center center;letter-spacing:0.150px;"><span id="t112">Preso in carico</span></div><div class="foot" style="top:329.50px"></div><svg class="abs" style="left:55.20px;top:344.20px" width="24" height="24" viewBox="0 0 24 24"><path fill="#174c84" d="M20 2H4c-1.100 0-2 .9-2 2v18l4-4h14c1.100 0 2-.9 2-2V4c0-1.100-.9-2-2-2zm0 14H6l-2 2V4h16v12z"/></svg><div class="t fl" style="top:348.55px;left:87.90px;transform:scaleX(1.0563);transform-origin:left center;letter-spacing:0.346px;"><span id="t113">Supporto</span></div><div class="vd" style="top:342.00px"></div><svg class="abs" style="left:240.60px;top:344.60px" width="24" height="24" viewBox="0 0 24 24"><path fill="#174c84" d="M11 17h2v-6h-2v6zm1-15C6.480 2 2 6.480 2 12s4.480 10 10 10 10-4.480 10-10S17.520 2 12 2zm0 18c-4.410 0-8-3.590-8-8s3.590-8 8-8 8 3.590 8 8-3.590 8-8 8zM11 9h2V7h-2v2z"/></svg><div class="t fl" style="top:348.55px;left:273.30px;transform:scaleX(1.0643);transform-origin:left center;letter-spacing:0.327px;"><span id="t114">Dettagli</span></div></div>
<div class="card off" style="left:998.75px;top:1007.5px;height:382.5px"><div class="t dt" style="top:27.55px;left:20.40px;transform:scaleX(1.0210);transform-origin:left center;letter-spacing:0.087px;"><span id="t115">mercoledì 18 agosto 2021 10:10</span></div><div class="fbtn"></div><svg class="abs" style="left:353.50px;top:22.20px" width="16.6" height="16.6" viewBox="0 0 24 24"><path fill="#13253a" d="M10 4H4c-1.100 0-1.990.9-1.990 2L2 18c0 1.100.9 2 2 2h16c1.100 0 2-.9 2-2V8c0-1.100-.9-2-2-2h-8l-2-2z"/></svg><div class="t id" style="top:54.55px;left:20.40px;transform:scaleX(1.0554);transform-origin:left center;letter-spacing:0.328px;"><span id="t116">#00724-32676</span></div><div class="badge" style="left:20px;top:78px;width:128px"></div><div class="t bt" style="top:82.55px;left:-116.00px;width:400px;text-align:center;transform:scaleX(1.0591);transform-origin:center center;letter-spacing:0.267px;"><span id="t117">Camion completo</span></div><div class="t lab" style="top:121.55px;left:19.90px;transform:scaleX(1.0574);transform-origin:left center;letter-spacing:0.279px;"><span id="t118">Ritiro</span></div><div class="t lab" style="top:121.55px;left:214.00px;transform:scaleX(1.0380);transform-origin:left center;letter-spacing:0.262px;"><span id="t119">Consegna</span></div><div class="t d2" style="top:144.55px;left:20.30px;transform:scaleX(1.0306);transform-origin:left center;letter-spacing:0.134px;"><span id="t120">20 agosto 2021</span></div><div class="t d2" style="top:144.55px;left:214.30px;transform:scaleX(1.0238);transform-origin:left center;letter-spacing:0.105px;"><span id="t121">23 agosto 2021</span></div><div class="t pl" style="top:165.55px;left:20.30px;transform:scaleX(1.0334);transform-origin:left center;letter-spacing:0.176px;"><span id="t122">PALERMO (ITPMO)</span></div><div class="t pl" style="top:163.55px;left:214.30px;transform:scaleX(1.0205);transform-origin:left center;letter-spacing:0.097px;"><span id="t123">CATANIA (ITCTA)</span></div><svg class="abs" style="left:20.100px;top:196.20px" width="5" height="11.4" viewBox="0 0 5 11.4"><path d="M.1 0H4.700V11.300H3.400V1.200H.1Z" fill="#3a3a3a"/></svg><div class="t cg" style="top:194.55px;left:30.40px;"><span id="t124">x</span></div><svg class="abs" style="left:42.92px;top:189.15px" width="20" height="20" viewBox="0 0 24 24"><path fill="#2f2f2f" d="M20 8h-3V4H3c-1.100 0-2 .9-2 2v11h2c0 1.660 1.340 3 3 3s3-1.340 3-3h6c0 1.660 1.340 3 3 3s3-1.340 3-3h2v-5l-3-4zM6 18.500c-.83 0-1.500-.67-1.500-1.500s.67-1.500 1.500-1.500 1.500.67 1.500 1.500-.67 1.500-1.500 1.500zm13.500-9l1.960 2.500H17V9.500h2.500zm-1.500 9c-.83 0-1.500-.67-1.500-1.500s.67-1.500 1.500-1.500 1.500.67 1.500 1.500-.67 1.500-1.500 1.500z"/></svg><div class="t cg" style="top:194.55px;left:67.00px;transform:scaleX(1.0920);transform-origin:left center;letter-spacing:0.500px;"><span id="t125">Camion completo</span></div><div class="t ann" style="top:218.55px;left:20.30px;transform:scaleX(1.0609);transform-origin:left center;letter-spacing:0.353px;"><span id="t126">Annullato</span></div><div class="foot" style="top:329.50px"></div><svg class="abs" style="left:55.20px;top:344.20px" width="24" height="24" viewBox="0 0 24 24"><path fill="#174c84" d="M20 2H4c-1.100 0-2 .9-2 2v18l4-4h14c1.100 0 2-.9 2-2V4c0-1.100-.9-2-2-2zm0 14H6l-2 2V4h16v12z"/></svg><div class="t fl" style="top:348.55px;left:87.90px;transform:scaleX(1.0563);transform-origin:left center;letter-spacing:0.346px;"><span id="t127">Supporto</span></div><div class="vd" style="top:342.00px"></div><svg class="abs" style="left:240.60px;top:344.60px" width="24" height="24" viewBox="0 0 24 24"><path fill="#174c84" d="M11 17h2v-6h-2v6zm1-15C6.480 2 2 6.480 2 12s4.480 10 10 10 10-4.480 10-10S17.520 2 12 2zm0 18c-4.410 0-8-3.590-8-8s3.590-8 8-8 8 3.590 8 8-3.590 8-8 8zM11 9h2V7h-2v2z"/></svg><div class="t fl" style="top:348.55px;left:273.30px;transform:scaleX(1.0643);transform-origin:left center;letter-spacing:0.327px;"><span id="t128">Dettagli</span></div></div>
<div class="card" style="left:1489.40px;top:1007.5px;height:382.5px"><div class="t dt" style="top:27.55px;left:20.40px;transform:scaleX(1.0444);transform-origin:left center;letter-spacing:0.177px;"><span id="t129">lunedì 20 settembre 2021 16:54</span></div><div class="fbtn"></div><svg class="abs" style="left:353.50px;top:22.20px" width="16.6" height="16.6" viewBox="0 0 24 24"><path fill="#13253a" d="M10 4H4c-1.100 0-1.990.9-1.990 2L2 18c0 1.100.9 2 2 2h16c1.100 0 2-.9 2-2V8c0-1.100-.9-2-2-2h-8l-2-2z"/></svg><div class="t id" style="top:54.55px;left:20.40px;transform:scaleX(1.0497);transform-origin:left center;letter-spacing:0.307px;"><span id="t130">#BOL0041784874-E</span></div><div class="badge" style="left:20px;top:78px;width:39.5px"></div><div class="t bt" style="top:82.55px;left:-160.25px;width:400px;text-align:center;transform:scaleX(1.0070);transform-origin:center center;letter-spacing:0.054px;"><span id="t131">LCL</span></div><div class="t lab" style="top:121.55px;left:19.90px;transform:scaleX(1.0574);transform-origin:left center;letter-spacing:0.279px;"><span id="t132">Ritiro</span></div><div class="t lab" style="top:121.55px;left:214.00px;transform:scaleX(1.0380);transform-origin:left center;letter-spacing:0.262px;"><span id="t133">Consegna</span></div><div class="t d2" style="top:144.55px;left:20.30px;transform:scaleX(1.0314);transform-origin:left center;letter-spacing:0.135px;"><span id="t134">21 settembre 2021</span></div><div class="t d2" style="top:144.55px;left:214.30px;transform:scaleX(1.0437);transform-origin:left center;letter-spacing:0.186px;"><span id="t135">22 settembre 2021</span></div><div class="t pl" style="top:165.55px;left:20.30px;transform:scaleX(1.0505);transform-origin:left center;letter-spacing:0.229px;"><span id="t136">Palermo (ITPMO)</span></div><div class="t pl" style="top:163.55px;left:214.30px;transform:scaleX(1.0301);transform-origin:left center;letter-spacing:0.137px;"><span id="t137">New York, Ny (USNYC)</span></div><div class="t cg" style="top:190.55px;left:19.90px;"><span id="t138">5</span></div><div class="t cg" style="top:190.55px;left:34.05px;"><span id="t139">x</span></div><svg class="abs" style="left:46.30px;top:188.50px" width="22.2" height="15.8" viewBox="0 0 22.2 15.8"><g fill="none" stroke="#333" stroke-width="1.05" stroke-linejoin="round"><path d="M3.600 .6H19L21.600 12.400H.6Z"/><path d="M7.700 .6L6.700 12.400M11.300 .6V12.400M14.900 .6L16 12.400M.6 12.400V15.200H3.400V13.700H18.800V15.200H21.600V12.400"/></g></svg><div class="t cg" style="top:190.55px;left:73.40px;transform:scaleX(0.9990);transform-origin:left center;"><span id="t140">EPAL 123 Kg</span></div><svg class="abs" style="left:20.100px;top:216.20px" width="5" height="11.4" viewBox="0 0 5 11.4"><path d="M.1 0H4.700V11.300H3.400V1.200H.1Z" fill="#3a3a3a"/></svg><div class="t cg" style="top:214.55px;left:30.80px;"><span id="t141">x</span></div><svg class="abs" style="left:43.20px;top:212.60px" width="22.2" height="15.8" viewBox="0 0 22.2 15.8"><g fill="none" stroke="#333" stroke-width="1.05" stroke-linejoin="round"><path d="M3.600 .6H19L21.600 12.400H.6Z"/><path d="M7.700 .6L6.700 12.400M11.300 .6V12.400M14.900 .6L16 12.400M.6 12.400V15.200H3.400V13.700H18.800V15.200H21.600V12.400"/></g></svg><div class="t cg" style="top:214.55px;left:70.60px;transform:scaleX(1.0190);transform-origin:left center;letter-spacing:0.118px;"><span id="t142">EPAL 33 Kg</span></div><div class="t cg" style="top:238.55px;left:20.80px;"><span id="t143">4</span></div><div class="t cg" style="top:238.55px;left:35.50px;"><span id="t144">x</span></div><svg class="abs" style="left:47.70px;top:236.80px" width="22.2" height="15.8" viewBox="0 0 22.2 15.8"><g fill="none" stroke="#333" stroke-width="1.05" stroke-linejoin="round"><path d="M3.600 .6H19L21.600 12.400H.6Z"/><path d="M7.700 .6L6.700 12.400M11.300 .6V12.400M14.900 .6L16 12.400M.6 12.400V15.200H3.400V13.700H18.800V15.200H21.600V12.400"/></g></svg><div class="t cg" style="top:238.55px;left:75.30px;transform:scaleX(1.0190);transform-origin:left center;letter-spacing:0.118px;"><span id="t145">EPAL 33 Kg</span></div><div class="pl0" style="top:282.60px"></div><div class="pl1" style="top:282.50px;width:256.30px"></div><div class="dot on" style="left:66.60px;top:278.10px"></div><div class="dot on" style="left:117.60px;top:278.10px"></div><div class="dot on" style="left:168.60px;top:278.10px"></div><div class="dot on" style="left:219.60px;top:278.10px"></div><div class="dot on" style="left:270.60px;top:278.10px"></div><div class="dot" style="left:321.60px;top:278.10px"></div><div class="t st" style="top:308.55px;left:76.60px;width:400px;text-align:center;transform:scaleX(1.0590);transform-origin:center center;letter-spacing:0.222px;"><span id="t146">Nave arrivata a destinazione</span></div><div class="foot" style="top:329.50px"></div><svg class="abs" style="left:55.20px;top:344.20px" width="24" height="24" viewBox="0 0 24 24"><path fill="#174c84" d="M20 2H4c-1.100 0-2 .9-2 2v18l4-4h14c1.100 0 2-.9 2-2V4c0-1.100-.9-2-2-2zm0 14H6l-2 2V4h16v12z"/></svg><div class="t fl" style="top:348.55px;left:87.90px;transform:scaleX(1.0563);transform-origin:left center;letter-spacing:0.346px;"><span id="t147">Supporto</span></div><div class="vd" style="top:342.00px"></div><svg class="abs" style="left:240.60px;top:344.60px" width="24" height="24" viewBox="0 0 24 24"><path fill="#174c84" d="M11 17h2v-6h-2v6zm1-15C6.480 2 2 6.480 2 12s4.480 10 10 10 10-4.480 10-10S17.520 2 12 2zm0 18c-4.410 0-8-3.590-8-8s3.590-8 8-8 8 3.590 8 8-3.590 8-8 8zM11 9h2V7h-2v2z"/></svg><div class="t fl" style="top:348.55px;left:273.30px;transform:scaleX(1.0643);transform-origin:left center;letter-spacing:0.327px;"><span id="t148">Dettagli</span></div></div>
<div class="card" style="left:17.00px;top:1400px;height:382.5px"><div class="t dt" style="top:27.05px;left:20.40px;transform:scaleX(1.0325);transform-origin:left center;letter-spacing:0.131px;"><span id="t149">lunedì 20 settembre 2021 16:51</span></div><div class="fbtn"></div><svg class="abs" style="left:353.50px;top:22.20px" width="16.6" height="16.6" viewBox="0 0 24 24"><path fill="#13253a" d="M10 4H4c-1.100 0-1.990.9-1.990 2L2 18c0 1.100.9 2 2 2h16c1.100 0 2-.9 2-2V8c0-1.100-.9-2-2-2h-8l-2-2z"/></svg><div class="t id" style="top:54.05px;left:20.40px;transform:scaleX(1.0510);transform-origin:left center;letter-spacing:0.303px;"><span id="t150">#BOF0041784676-I</span></div><div class="badge" style="left:20px;top:78px;width:39.5px"></div><div class="t bt" style="top:82.05px;left:-160.25px;width:400px;text-align:center;transform:scaleX(1.0070);transform-origin:center center;letter-spacing:0.054px;"><span id="t151">FCL</span></div><div class="t lab" style="top:121.05px;left:19.90px;transform:scaleX(1.0574);transform-origin:left center;letter-spacing:0.279px;"><span id="t152">Ritiro</span></div><div class="t lab" style="top:121.05px;left:214.00px;transform:scaleX(1.0380);transform-origin:left center;letter-spacing:0.262px;"><span id="t153">Consegna</span></div><div class="t d2" style="top:144.05px;left:20.30px;transform:scaleX(1.0325);transform-origin:left center;letter-spacing:0.140px;"><span id="t154">21 settembre 2021</span></div><div class="t d2" style="top:144.05px;left:214.30px;transform:scaleX(1.0466);transform-origin:left center;letter-spacing:0.198px;"><span id="t155">22 settembre 2021</span></div><div class="t pl" style="top:165.05px;left:20.30px;transform:scaleX(1.0508);transform-origin:left center;letter-spacing:0.231px;"><span id="t156">Palermo (ITPMO)</span></div><div class="t pl" style="top:163.05px;left:214.30px;transform:scaleX(1.0263);transform-origin:left center;letter-spacing:0.113px;"><span id="t157">Catania (ITCTA)</span></div><div class="t cg" style="top:190.05px;left:19.90px;"><span id="t158">2</span></div><div class="t cg" style="top:190.05px;left:34.00px;"><span id="t159">x</span></div><svg class="abs" style="left:45.90px;top:187.90px" width="22.8" height="16" viewBox="0 0 22.8 16"><g fill="none" stroke="#333" stroke-width="1.05" stroke-linejoin="round"><path d="M.6 2.800L2.200 .6H20.600L22.200 2.800V15.400H.6Z"/><path d="M.6 2.800H22.200"/><path d="M3.300 4.500V13.800M5.600 4.500V13.800M7.900 4.500V13.800M10.200 4.500V13.800M12.600 4.500V13.800M14.900 4.500V13.800M17.200 4.500V13.800M19.500 4.500V13.800"/></g></svg><div class="t cg" style="top:190.05px;left:72.60px;transform:scaleX(1.0575);transform-origin:left center;letter-spacing:0.303px;"><span id="t160">20' Dry</span></div><div class="foot" style="top:329.50px"></div><svg class="abs" style="left:55.20px;top:344.20px" width="24" height="24" viewBox="0 0 24 24"><path fill="#174c84" d="M20 2H4c-1.100 0-2 .9-2 2v18l4-4h14c1.100 0 2-.9 2-2V4c0-1.100-.9-2-2-2zm0 14H6l-2 2V4h16v12z"/></svg><div class="t fl" style="top:348.05px;left:87.90px;transform:scaleX(1.0563);transform-origin:left center;letter-spacing:0.346px;"><span id="t161">Supporto</span></div><div class="vd" style="top:342.00px"></div><svg class="abs" style="left:240.60px;top:344.60px" width="24" height="24" viewBox="0 0 24 24"><path fill="#174c84" d="M11 17h2v-6h-2v6zm1-15C6.480 2 2 6.480 2 12s4.480 10 10 10 10-4.480 10-10S17.520 2 12 2zm0 18c-4.410 0-8-3.590-8-8s3.590-8 8-8 8 3.590 8 8-3.590 8-8 8zM11 9h2V7h-2v2z"/></svg><div class="t fl" style="top:348.05px;left:273.30px;transform:scaleX(1.0643);transform-origin:left center;letter-spacing:0.327px;"><span id="t162">Dettagli</span></div></div>
<div id="ftr">
<div class="t ft" style="top:12.05px;left:15.20px;transform:scaleX(1.0483);transform-origin:left center;letter-spacing:0.183px;color:#f2f2f2;"><span id="t163">Copyright 2021 Coloombus S.r.l.s. All Rights Reserved</span></div>
<div class="t ft" style="top:12.05px;left:1775.30px;transform:scaleX(1.0686);transform-origin:left center;letter-spacing:0.260px;color:#4a90c8;"><span id="t164">Hai bisogno d'aiuto?</span></div>
</div></div></body></html>
